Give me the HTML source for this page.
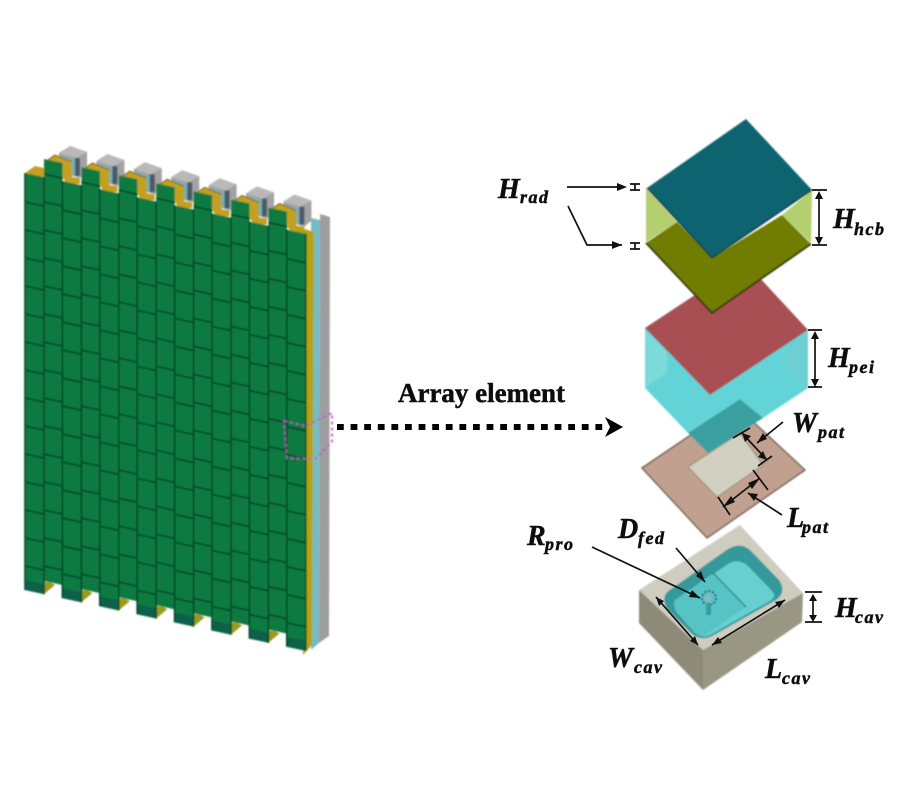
<!DOCTYPE html>
<html><head><meta charset="utf-8"><style>
html,body{margin:0;padding:0;background:#fff}
svg{display:block}
.l{font-family:"Liberation Serif",serif;font-weight:bold;font-style:italic;fill:#111;stroke:#111;stroke-width:.5px}
.m{font-size:28px}.s{font-size:18px;letter-spacing:1.5px}
</style></head><body>
<svg width="900" height="800" viewBox="0 0 900 800" xmlns="http://www.w3.org/2000/svg">
<defs>
<filter id="b" x="-5%" y="-5%" width="110%" height="110%"><feGaussianBlur stdDeviation="0.7"/></filter>
<filter id="t" x="-5%" y="-5%" width="110%" height="110%"><feGaussianBlur stdDeviation="0.35"/></filter>
<g id="cap">
 <polygon points="59,153 70,146 87,152 87,172 80,178 70,175 59,160" fill="#a3a3a3"/>
 <polygon points="59,153 70,146 87,152 76,158" fill="#b9b9b9"/>
 <polygon points="62,156 75,160 75,176 68,172" fill="#6fb0bc"/>
 <polygon points="75,158 80,158 80,176 75,176" fill="#4b5a66"/>
 <polygon points="48,160 55,155 72,162 72,177 80,178 80,184 66,184 62,175 62,168" fill="#c3a021"/>
 <path d="M48 160L55 155L72 162" fill="none" stroke="#8a6f1a" stroke-width="1.2"/>
</g>
<g id="front">
 <rect x="0" y="0" width="19" height="417" fill="#0b7a42"/>
 <rect x="0" y="407" width="19" height="10" fill="#0a6048"/>
 <path d="M0 29H19M0 57H19M0 85H19M0 113H19M0 141H19M0 169H19M0 197H19M0 225H19M0 253H19M0 281H19M0 309H19M0 337H19M0 365H19M0 393H19" stroke="#064a28" stroke-width="1.7"/>
 <path d="M0 0V417M19 0V417" stroke="#054826" stroke-width="1.6"/>
</g>
<g id="back">
 <rect x="0" y="0" width="18.5" height="422" fill="#0b7a42"/>
 <path d="M0 15H19M0 43H19M0 71H19M0 99H19M0 127H19M0 155H19M0 183H19M0 211H19M0 239H19M0 267H19M0 295H19M0 323H19M0 351H19M0 379H19M0 407H19" stroke="#064a28" stroke-width="1.7"/>
</g>
<polygon id="nub" points="43,595 55,585 50,582 43,582" fill="#9a9a20"/>
</defs>
<rect width="900" height="800" fill="#fff"/>

<g filter="url(#b)">
 <use href="#cap"/>
 <use href="#cap" transform="translate(37.4,8.1)"/>
 <use href="#cap" transform="translate(74.8,16.2)"/>
 <use href="#cap" transform="translate(112.2,24.3)"/>
 <use href="#cap" transform="translate(149.6,32.4)"/>
 <use href="#cap" transform="translate(187,40.5)"/>
 <use href="#cap" transform="translate(224.4,48.6)"/>
 <polygon points="25,173 35,166 44,168 44,178" fill="#c3a021"/>
 <polygon points="320,214 330,217 329,636 319,643" fill="#9e9e9e"/>
 <polygon points="311,218 320,220 319,643 311,650" fill="#76bcc4"/>
 <polygon points="295,226 314,232 312,645 303,655" fill="#b5a312"/>
 <use href="#back" transform="translate(44,159) skewY(12.3)"/>
 <use href="#back" transform="translate(81.4,167.1) skewY(12.3)"/>
 <use href="#back" transform="translate(118.8,175.2) skewY(12.3)"/>
 <use href="#back" transform="translate(156.2,183.3) skewY(12.3)"/>
 <use href="#back" transform="translate(193.6,191.4) skewY(12.3)"/>
 <use href="#back" transform="translate(231,199.5) skewY(12.3)"/>
 <use href="#back" transform="translate(268.4,207.6) skewY(12.3)"/>
 <use href="#nub"/>
 <use href="#nub" transform="translate(37.4,8.1)"/>
 <use href="#nub" transform="translate(74.8,16.2)"/>
 <use href="#nub" transform="translate(112.2,24.3)"/>
 <use href="#nub" transform="translate(149.6,32.4)"/>
 <use href="#nub" transform="translate(187,40.5)"/>
 <use href="#nub" transform="translate(224.4,48.6)"/>
 <use href="#front" transform="translate(25,173) skewY(12.3)"/>
 <use href="#front" transform="translate(62.4,181.1) skewY(12.3)"/>
 <use href="#front" transform="translate(99.8,189.2) skewY(12.3)"/>
 <use href="#front" transform="translate(137.2,197.3) skewY(12.3)"/>
 <use href="#front" transform="translate(174.6,205.4) skewY(12.3)"/>
 <use href="#front" transform="translate(212,213.5) skewY(12.3)"/>
 <use href="#front" transform="translate(249.4,221.6) skewY(12.3)"/>
 <use href="#front" transform="translate(286.8,229.7) skewY(12.3)"/>
 <polygon points="284,421 305,426 332,413 332,442 315,459 287,458" fill="none" stroke="#c040d0" stroke-width="1.6" stroke-dasharray="3 3"/>
</g>

<g filter="url(#b)">
 <!-- substrate -->
 <polygon points="642,468 735,405 805,470 707,538" fill="#c2a08f" stroke="#6f5d50" stroke-width="1.4"/>
 <polygon points="688,467 740,433 763,465 717,497" fill="#d2d0c0" stroke="#8d8a7c" stroke-width="1"/>
 <!-- PEI box -->
 <polygon points="645,328 745,262 808,330 808,388 763,418 740,399 688,433 645,388" fill="#62d4d8"/>
 <polygon points="645,330 667,352 667,372 645,388" fill="#7ddada"/>
 <polygon points="785,352 808,332 808,388 790,375" fill="#6ecfd2"/>
 <polygon points="688,433 740,399 763,418 708,453" fill="#3a9fa0"/>
 <polygon points="645,328 745,262 808,330 710,395" fill="#a84f52"/>
 <!-- HCB -->
 <polygon points="646,188 677,222 646,242" fill="#b4cf6d"/>
 <polygon points="812,190 782,215 811,243" fill="#b4cf6d"/>
 <polygon points="646,243 677,222 712,258 782,215 811,244 712,313" fill="#6f7d00"/>
 <path d="M646 243L712 313L811 244" fill="none" stroke="#1f2500" stroke-width="1.6"/>
 <polygon points="647,188 746,119 812,190 712,258" fill="#0b6470"/>
 <path d="M647 188L712 258L812 190" fill="none" stroke="#07303a" stroke-width="1.2"/>
 <!-- cavity -->
 <polygon points="639,590 740,525 803,593 703,650" fill="#cfcdbf"/>
 <polygon points="639,590 703,650 703,690 639,623" fill="#8e8a78"/>
 <polygon points="703,650 803,593 802,622 703,690" fill="#9a9684"/>
 <path d="M667 592Q661 600 668 610L692 634Q702 642 714 635L776 600Q787 592 779 580L752 552Q742 541 728 549Z" fill="#34989b"/>
 <path d="M675 600L728 564Q740 557 750 568L772 591Q777 597 770 601L712 634Q702 640 694 632L680 616Q672 608 675 600Z" fill="#66cfcf"/>
 <path d="M675 600L712 574L745 607L704 636Q698 636 694 632L680 616Q672 608 675 600Z" fill="#58c3c5"/>
 <path d="M713 573L746 607" stroke="#1d6a6c" stroke-width="1.2"/>
 <circle cx="709" cy="598" r="7" fill="none" stroke="#123" stroke-width="1.6" stroke-dasharray="2 2"/>
 <circle cx="708" cy="598" r="3" fill="#a0b0b8"/>
 <rect x="706" y="603" width="5" height="12" fill="#3b9a9e"/>
</g>

<!-- Array element -->
<text x="398" y="402" font-family="Liberation Serif,serif" font-weight="bold" font-size="27" textLength="167" lengthAdjust="spacingAndGlyphs" fill="#111" stroke="#111" stroke-width=".5" filter="url(#t)">Array element</text>
<line x1="337" y1="427" x2="604" y2="427" stroke="#000" stroke-width="6" stroke-dasharray="6.8 6.8"/>
<polygon points="605,417 623,427 605,437 610,427" fill="#000"/>

<!-- dims -->
<g fill="none" stroke="#111" stroke-width="1.7">
 <path d="M567 187H622M568 206L587 245H622"/>
 <path d="M630 184H640M630 190H640M635 184V190M630 243H640M630 249H640M635 243V249"/>
 <path d="M812 190H827M812 245H827M819 193V243M808 330H822M808 387H822M815 333V385"/>
 <path d="M742 433L767 460M723 507L760 478M783 422L757 443M782 515L748 493"/>
 <path d="M733 438L750 428M758 466L772 456M718 497L730 515M753 470L768 490"/>
 <path d="M592 547L700 598M676 548L705 582"/>
 <path d="M805 592H822M805 622H822M813 595V620"/>
 <path d="M656 597L698 645M712 645L785 600"/>
</g>
<g fill="#111">
 <polygon points="627,187 617,183 617,191"/><polygon points="622,245 612,241 612,249"/>
 <polygon points="819,191 815,199 823,199"/><polygon points="819,245 815,237 823,237"/>
 <polygon points="815,331 811,339 819,339"/><polygon points="815,387 811,379 819,379"/>
 <polygon points="742,433 751,436 745,442"/><polygon points="767,460 758,457 763,451"/>
 <polygon points="723,507 731,496 735,502"/><polygon points="760,478 752,489 748,483"/>
 <polygon points="757,443 767,439 763,433"/><polygon points="748,493 758,494 754,501"/>
 <polygon points="700,598 689,597 692,590"/><polygon points="705,582 696,576 701,571"/>
 <polygon points="813,594 809,601 817,601"/><polygon points="813,622 809,615 817,615"/>
 <polygon points="656,597 664,601 659,606"/><polygon points="698,645 690,641 695,636"/>
 <polygon points="712,645 718,637 722,643"/><polygon points="785,600 779,608 775,602"/>
</g>

<!-- labels -->
<g filter="url(#t)">
<text class="l m" x="498" y="198">H</text><text class="l s" x="520" y="203">rad</text>
<text class="l m" x="833" y="228">H</text><text class="l s" x="854" y="235">hcb</text>
<text class="l m" x="828" y="367">H</text><text class="l s" x="849" y="373">pei</text>
<text class="l m" x="792" y="432">W</text><text class="l s" x="818" y="438">pat</text>
<text class="l m" x="787" y="527">L</text><text class="l s" x="802" y="533">pat</text>
<text class="l m" x="618" y="538">D</text><text class="l s" x="638" y="544">fed</text>
<text class="l m" x="527" y="545">R</text><text class="l s" x="545" y="550">pro</text>
<text class="l m" x="835" y="617">H</text><text class="l s" x="855" y="623">cav</text>
<text class="l m" x="608" y="667">W</text><text class="l s" x="634" y="673">cav</text>
<text class="l m" x="765" y="678">L</text><text class="l s" x="782" y="684">cav</text>
</g>
</svg>
</body></html>
